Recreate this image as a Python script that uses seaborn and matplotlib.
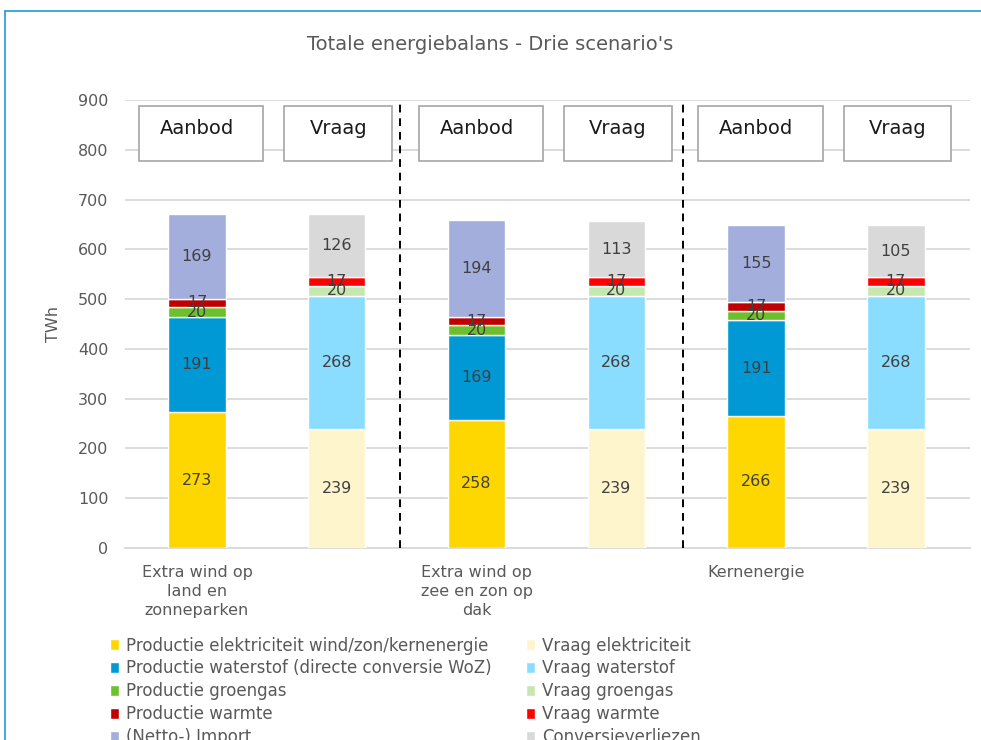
import numpy as np
import pandas as pd
from matplotlib import pyplot as plt
from matplotlib.patches import Rectangle, Patch
from matplotlib.lines import Line2D
import seaborn as sns

# scenario names (x-axis labels, one per pair of bars)
scenarios = ["Extra wind op\nland en\nzonneparken", "Extra wind op\nzee en zon op\ndak", "Kernenergie"]

# supply side (Aanbod), per scenario
prod_elek = [273, 258, 266]
prod_h2 = [191, 169, 191]
prod_gas = [20, 20, 20]
prod_warmte = [17, 17, 17]
netto_import = [169, 194, 155]

# demand side (Vraag), per scenario
vraag_elek = [239, 239, 239]
vraag_h2 = [268, 268, 268]
vraag_gas = [20, 20, 20]
vraag_warmte = [17, 17, 17]
conversie = [126, 113, 105]

supply_names = ["Productie elektriciteit wind/zon/kernenergie", "Productie waterstof (directe conversie WoZ)",
                "Productie groengas", "Productie warmte", "(Netto-) Import"]
demand_names = ["Vraag elektriciteit", "Vraag waterstof", "Vraag groengas", "Vraag warmte", "Conversieverliezen"]
supply_colors = ["#FFD700", "#0099D6", "#6CC02E", "#C00000", "#A3AEDD"]
demand_colors = ["#FFF5CC", "#8ADDFF", "#C6E8B0", "#FF0000", "#D9D9D9"]

supply = [prod_elek, prod_h2, prod_gas, prod_warmte, netto_import]
demand = [vraag_elek, vraag_h2, vraag_gas, vraag_warmte, conversie]

# six bars: Aanbod / Vraag for each scenario
bars = ["A1", "V1", "A2", "V2", "A3", "V3"]
side_bars = {"A": ["A1", "A2", "A3"], "V": ["V1", "V2", "V3"]}

sns.set_style("white")
plt.rcParams['font.family'] = ['DejaVu Sans']
fig = plt.figure(figsize=(9.81, 7.40), dpi=100)
ax = fig.add_axes([0.1274, 0.2595, 0.8614, 0.6054])

txt_grey = "#595959"
for side, layers, cols in [("A", supply, supply_colors), ("V", demand, demand_colors)]:
    bottom = np.zeros(3)
    for vals, c in zip(layers, cols):
        df = pd.DataFrame({"bar": side_bars[side], "val": vals})
        sns.barplot(data=df, x="bar", y="val", order=bars, color=c, width=0.41,
                    bottom=bottom, saturation=1, ax=ax, zorder=3)
        # value labels in the middle of each segment
        for j, h in enumerate(vals):
            ax.text(bars.index(side_bars[side][j]), bottom[j] + h / 2, str(h), ha='center',
                    va='center', fontsize=11.5, color="#404040", zorder=5)
        bottom = bottom + np.array(vals)

ax.set_xlim(-0.515, 5.53)
ax.set_ylim(0, 900)
ax.set_yticks(np.arange(0, 901, 100))
ax.yaxis.grid(True, color="#D9D9D9", linewidth=1.3, zorder=0)
ax.set_axisbelow(True)
for s in ["top", "right", "left"]:
    ax.spines[s].set_visible(False)
ax.spines["bottom"].set_color("#D9D9D9")
ax.spines["bottom"].set_linewidth(1.3)
ax.set_xticks([0, 2, 4])
ax.set_xticklabels(scenarios, fontsize=11.5, color=txt_grey, va='top', linespacing=1.35)
ax.tick_params(axis='both', length=0, labelsize=11.5, colors=txt_grey)
ax.tick_params(axis='x', pad=12)
ax.tick_params(axis='y', pad=12)
ax.set_xlabel("")
ax.set_ylabel("TWh", fontsize=11.5, color=txt_grey, labelpad=12)

# dashed separators between scenarios
for xs in [1.45, 3.48]:
    ax.axvline(xs, color="black", linestyle=(0, (4, 3)), linewidth=1.4, zorder=4)

# Aanbod / Vraag boxes
for i in range(6):
    w = 0.89 if i % 2 == 0 else 0.77
    ax.add_patch(Rectangle((i - w / 2 + (0.03 if i % 2 == 0 else 0.01), 777), w, 111,
                           facecolor="white", edgecolor="#A6A6A6", linewidth=1.2, zorder=4))
    ax.text(i + (0.0 if i % 2 == 0 else 0.01), 842, "Aanbod" if i % 2 == 0 else "Vraag",
            ha='center', va='center', fontsize=14, color="#1A1A1A", zorder=5)

fig.suptitle("Totale energiebalans - Drie scenario's", y=0.9405, va='center',
             fontsize=14, color=txt_grey)

handles = [Patch(facecolor=c) for c in supply_colors + demand_colors]
labels = supply_names + demand_names
fig.legend(handles, labels, ncol=2, loc='upper left', bbox_to_anchor=(0.112, 0.1397),
           frameon=False, fontsize=12, labelcolor=txt_grey, handlelength=0.55,
           handleheight=0.6, handletextpad=0.4, columnspacing=2.1, labelspacing=0.29,
           borderaxespad=0, borderpad=0)

# outer chart border
fig.add_artist(Line2D([5 / 981, 1.0], [1 - 11 / 740] * 2, color="#1E9BD7", linewidth=1.2))
fig.add_artist(Line2D([5 / 981] * 2, [0, 1 - 11 / 740], color="#1E9BD7", linewidth=1.2))

plt.savefig("out.png", dpi=100)
